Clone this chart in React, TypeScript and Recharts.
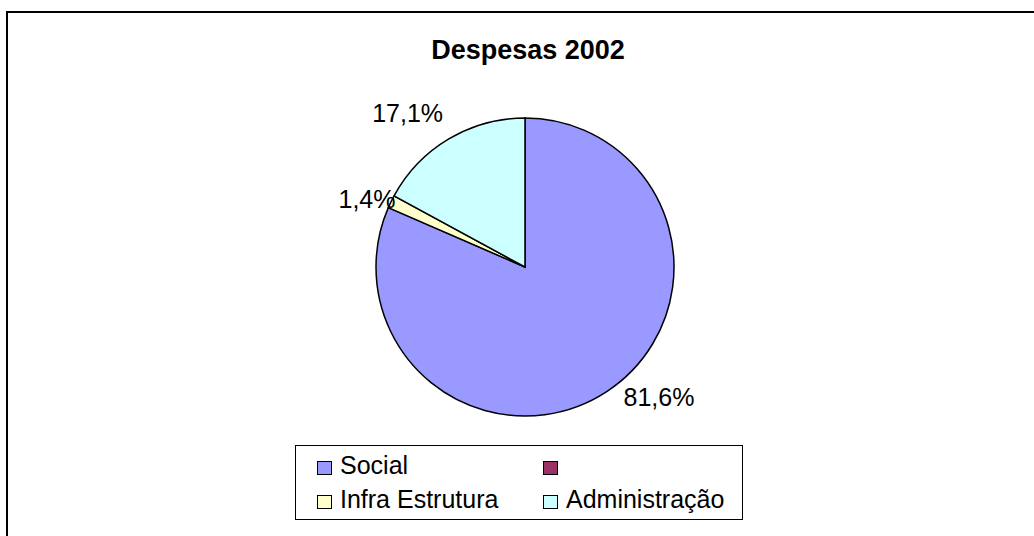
import React from "react";
import { PieChart, Pie, Cell, Legend } from "recharts";

const categories = ["Social", "", "Infra Estrutura", "Administração"];
const values = [81.6, 0, 1.4, 17.1];
const labels = ["81,6%", "", "1,4%", "17,1%"];
const colors = ["#9999FF", "#993366", "#FFFFCC", "#CCFFFF"];
const title = "Despesas 2002";

// label placement tweaks (angle offset in degrees, radius in px)
const labelAngleNudge = [12.5, 0, 2.7, 6.5];
const labelRadius = [187, 0, 172, 194];

const data = categories.map((name, i) => ({ name, value: values[i], label: labels[i] }));

const FONT = "'Liberation Sans', Arial, sans-serif";
const RAD = Math.PI / 180;

const renderLabel = (props: any) => {
  const { cx, cy, midAngle, index } = props;
  if (!labels[index]) return null;
  const a = (midAngle + labelAngleNudge[index]) * RAD;
  const r = labelRadius[index];
  const x = cx + r * Math.cos(-a);
  const y = cy + r * Math.sin(-a);
  return (
    <text
      x={x}
      y={y}
      textAnchor="middle"
      dominantBaseline="central"
      fontFamily={FONT}
      fontSize={25}
      fill="#000"
    >
      {labels[index]}
    </text>
  );
};

const LegendContent = () => (
  <div
    style={{
      width: 448,
      height: 75,
      boxSizing: "border-box",
      border: "1px solid #000",
      background: "#fff",
      position: "relative",
      fontFamily: FONT,
      fontSize: 25,
      color: "#000",
    }}
  >
    {categories.map((name, i) => {
      const col = i % 2;
      const row = Math.floor(i / 2);
      return (
        <div
          key={i}
          style={{
            position: "absolute",
            left: col === 0 ? 21 : 247,
            top: row === 0 ? 4 : 38,
            height: 30,
            display: "flex",
            alignItems: "center",
            whiteSpace: "nowrap",
          }}
        >
          <span
            style={{
              display: "inline-block",
              width: 13,
              height: 12,
              background: colors[i],
              border: "1.5px solid #000",
              marginRight: 8,
              marginTop: 5,
            }}
          />
          <span>{name}</span>
        </div>
      );
    })}
  </div>
);

export default function App() {
  return (
    <div
      style={{
        position: "absolute",
        left: 6,
        top: 11,
        width: 1028,
        height: 525,
        boxSizing: "border-box",
        borderTop: "2px solid #000",
        borderLeft: "2px solid #000",
        background: "#fff",
      }}
    >
      <div
        style={{
          position: "absolute",
          left: 0,
          width: 1040,
          top: 22,
          textAlign: "center",
          fontFamily: FONT,
          fontWeight: "bold",
          fontSize: 27,
          lineHeight: "30px",
          color: "#000",
        }}
      >
        {title}
      </div>
      <PieChart width={1026} height={523} margin={{ top: 0, right: 0, bottom: 0, left: 0 }}>
        <Pie
          data={data}
          dataKey="value"
          nameKey="name"
          cx={517}
          cy={254}
          outerRadius={149}
          startAngle={90}
          endAngle={-270}
          stroke="#000"
          strokeWidth={1.5}
          label={renderLabel}
          labelLine={false}
          isAnimationActive={false}
        >
          {data.map((d, i) => (
            <Cell key={i} fill={colors[i]} />
          ))}
        </Pie>
        <Legend
          content={<LegendContent />}
          wrapperStyle={{ position: "absolute", left: 287, top: 432, width: 448, height: 75 }}
        />
      </PieChart>
    </div>
  );
}
